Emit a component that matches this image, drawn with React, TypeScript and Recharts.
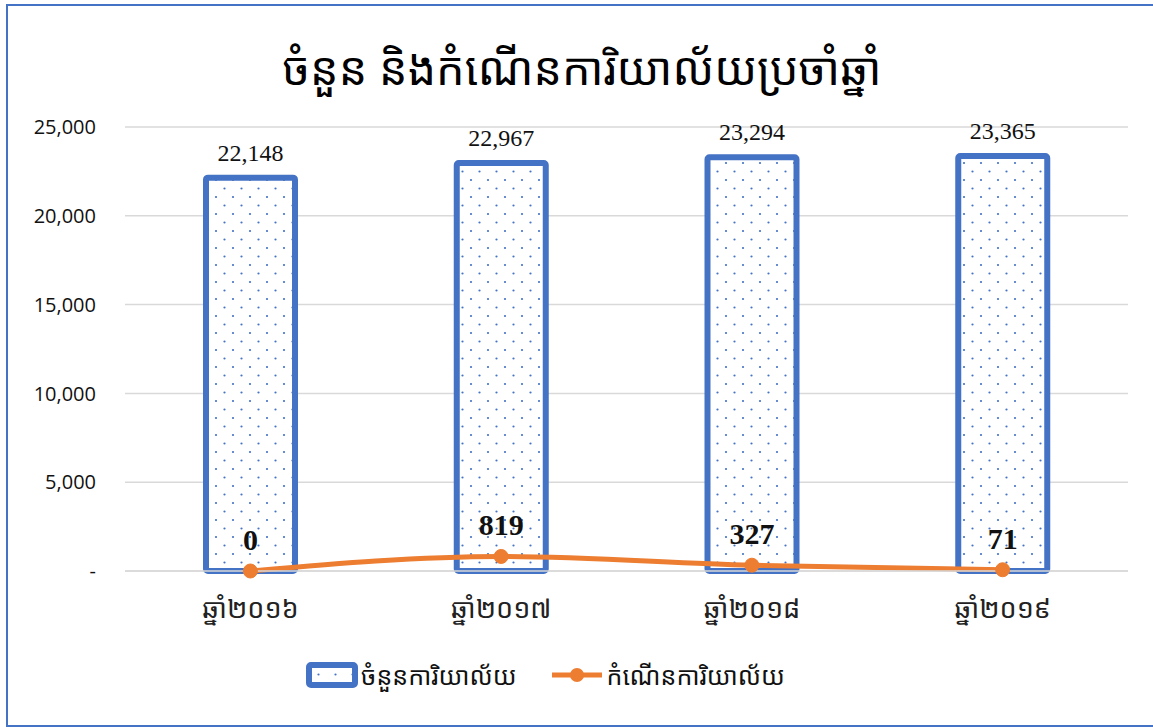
import React from "react";
import {
  ComposedChart,
  Bar,
  Line,
  XAxis,
  YAxis,
  CartesianGrid,
  LabelList,
} from "recharts";

const years = ["ឆ្នាំ២០១៦", "ឆ្នាំ២០១៧", "ឆ្នាំ២០១៨", "ឆ្នាំ២០១៩"];
const officeCount = [22148, 22967, 23294, 23365];
const officeGrowth = [0, 819, 327, 71];
const yTicks = [0, 5000, 10000, 15000, 20000, 25000];

const BLUE = "#4472C4";
const ORANGE = "#ED7D31";
const KHMER = "'Noto Sans Khmer', 'Khmer OS', 'Noto Sans', sans-serif";
const SERIF = "'Liberation Serif', 'DejaVu Serif', serif";

const data = years.map((year, i) => ({
  year,
  count: officeCount[i],
  growth: officeGrowth[i],
}));

const fmtY = (v: number) => (v === 0 ? "-" : v.toLocaleString("en-US"));

function DotPattern({ id }: { id: string }) {
  return (
    <pattern id={id} width={17} height={17} patternUnits="userSpaceOnUse">
      <rect width={17} height={17} fill="#fff" />
      <circle cx={4} cy={4} r={1.1} fill={BLUE} />
      <circle cx={12.5} cy={12.5} r={1.1} fill={BLUE} />
    </pattern>
  );
}

export default function App() {
  return (
    <div
      style={{
        position: "fixed",
        left: 0,
        top: 0,
        width: 1153,
        height: 727,
        overflow: "hidden",
        background: "#fff",
      }}
    >
      {/* frame, runs off the right edge like the original */}
      <div
        style={{
          position: "absolute",
          left: 6,
          top: 4,
          width: 1160,
          height: 723,
          border: `2px solid ${BLUE}`,
          boxSizing: "border-box",
        }}
      />

      <div
        style={{
          position: "absolute",
          left: 0,
          top: 38,
          width: 1164,
          textAlign: "center",
          fontFamily: KHMER,
          fontSize: 45,
          color: "#000",
          lineHeight: "60px",
        }}
      >
        ចំនួន និងកំណើនការិយាល័យប្រចាំឆ្នាំ
      </div>

      <div style={{ position: "absolute", left: 8, top: 6 }}>
        <ComposedChart
          width={1140}
          height={716}
          data={data}
          margin={{ top: 121, right: 20, bottom: 121, left: 0 }}
        >
          <defs>
            <DotPattern id="dots" />
          </defs>
          <CartesianGrid vertical={false} stroke="#d9d9d9" strokeWidth={1.5} />
          <XAxis
            dataKey="year"
            height={30}
            tickLine={false}
            axisLine={{ stroke: "#d9d9d9", strokeWidth: 1.5 }}
            tick={{ fill: "#222", fontSize: 27, fontFamily: KHMER }}
            tickMargin={22}
          />
          <YAxis
            width={117}
            domain={[0, 25000]}
            ticks={yTicks}
            tickFormatter={fmtY}
            axisLine={false}
            tickLine={false}
            tickMargin={23}
            tick={{ fill: "#111", fontSize: 20, fontFamily: "'Open Sans', Lato, sans-serif" }}
          />
          <Bar
            dataKey="count"
            barSize={89}
            fill="url(#dots)"
            stroke={BLUE}
            strokeWidth={6}
            radius={2}
            isAnimationActive={false}
          >
            <LabelList
              dataKey="count"
              position="top"
              offset={17}
              formatter={(v: any) => Number(v).toLocaleString("en-US")}
              style={{ fill: "#111", fontSize: 24, fontFamily: SERIF }}
            />
          </Bar>
          <Line
            dataKey="growth"
            type="monotone"
            stroke={ORANGE}
            strokeWidth={5}
            dot={{ r: 7, fill: ORANGE, stroke: ORANGE, strokeWidth: 1 }}
            isAnimationActive={false}
          >
            <LabelList
              dataKey="growth"
              position="top"
              offset={21}
              style={{ fill: "#111", fontSize: 30, fontWeight: 700, fontFamily: SERIF }}
            />
          </Line>
        </ComposedChart>
      </div>

      <div
        style={{
          position: "absolute",
          top: 658,
          left: 306,
          display: "flex",
          alignItems: "center",
          fontFamily: KHMER,
          fontSize: 25,
          color: "#111",
        }}
      >
        <svg width={52} height={26} style={{ marginRight: 3 }}>
          <defs>
            <DotPattern id="legdots" />
          </defs>
          <rect x={3} y={3} width={46} height={20} rx={2} fill="url(#legdots)" stroke={BLUE} strokeWidth={6} />
        </svg>
        <span>ចំនួនការិយាល័យ</span>
        <svg width={50} height={26} style={{ marginLeft: 36, marginRight: 4 }}>
          <line x1={0} y1={13} x2={50} y2={13} stroke={ORANGE} strokeWidth={5} />
          <circle cx={25} cy={13} r={7} fill={ORANGE} />
        </svg>
        <span>កំណើនការិយាល័យ</span>
      </div>
    </div>
  );
}
